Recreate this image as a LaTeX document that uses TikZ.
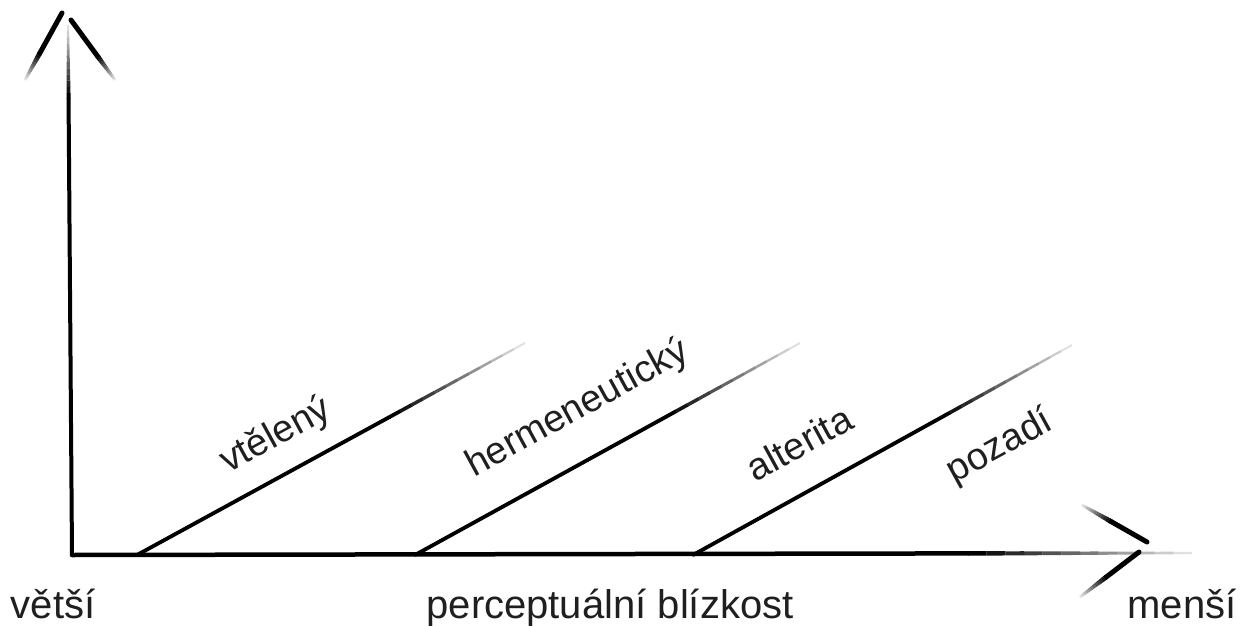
\documentclass[tikz,border=0pt]{standalone}
\usepackage{fontspec}
\setmainfont{Liberation Sans}
\usetikzlibrary{calc}
\newcommand\fadeseg[4]{%
  \draw[line width=#4pt, line cap=round] (#1) -- ($(#1)!#3!(#2)$);
  \foreach \k in {0,...,11}{
    \pgfmathsetmacro\fa{#3+(1-#3)*\k/12}
    \pgfmathsetmacro\fb{#3+(1-#3)*(\k+1)/12}
    \pgfmathsetmacro\op{1-\k/12.5}
    \pgfmathsetmacro\lw{#4*(1-\k/24)}
    \draw[line width=\lw pt, opacity=\op, line cap=butt] ($(#1)!\fa!(#2)$) -- ($(#1)!\fb!(#2)$);
  }}
\begin{document}
\begin{tikzpicture}[x=1pt,y=-1pt,
  lab/.style={font=\fontsize{40}{40}\selectfont, text=black!88, inner sep=0pt, anchor=base},
  dlab/.style={font=\fontsize{38}{38}\selectfont, text=black!88, inner sep=0pt, rotate=28.7}]
\useasboundingbox (0,0) rectangle (1253,626);
% axes
\coordinate (O) at (72,555);
\coordinate (Ytop) at (68,25);
\coordinate (Xend) at (1192,553);
\fadeseg{O}{Ytop}{0.86}{4}
\fadeseg{O}{Xend}{0.8}{4.5}
% arrow heads
\coordinate (ytl) at (62,13); \coordinate (ytlb) at (25,80);
\coordinate (ytr) at (71,20); \coordinate (ytrb) at (115,80);
\fadeseg{ytl}{ytlb}{0.6}{5}
\fadeseg{ytr}{ytrb}{0.6}{5}
\coordinate (xru) at (1147,542); \coordinate (xrue) at (1082,505);
\coordinate (xrl) at (1139,552); \coordinate (xrle) at (1080,597);
\fadeseg{xru}{xrue}{0.55}{5}
\fadeseg{xrl}{xrle}{0.55}{5}
% diagonals
\coordinate (d1a) at (137,555); \coordinate (d1b) at (525,343);
\coordinate (d2a) at (415,555); \coordinate (d2b) at (800,343);
\coordinate (d3a) at (693,555); \coordinate (d3b) at (1072,345);
\fadeseg{d1a}{d1b}{0.65}{3.8}
\fadeseg{d2a}{d2b}{0.65}{3.8}
\fadeseg{d3a}{d3b}{0.65}{3.8}
% labels
\node[dlab] (l1) at (276,436) {vtělený};
\node[dlab] (l2) at (578,409) {hermeneutický};
\node[dlab] (l3) at (799,443) {alterita};
\node[dlab] (l4) at (1000,447) {pozadí};
\node[lab] (b1) at (53,618) {větší};
\node[lab] (b2) at (610,618) {perceptuální blízkost};
\node[lab] (b3) at (1182,618) {menší};
\end{tikzpicture}
\end{document}
